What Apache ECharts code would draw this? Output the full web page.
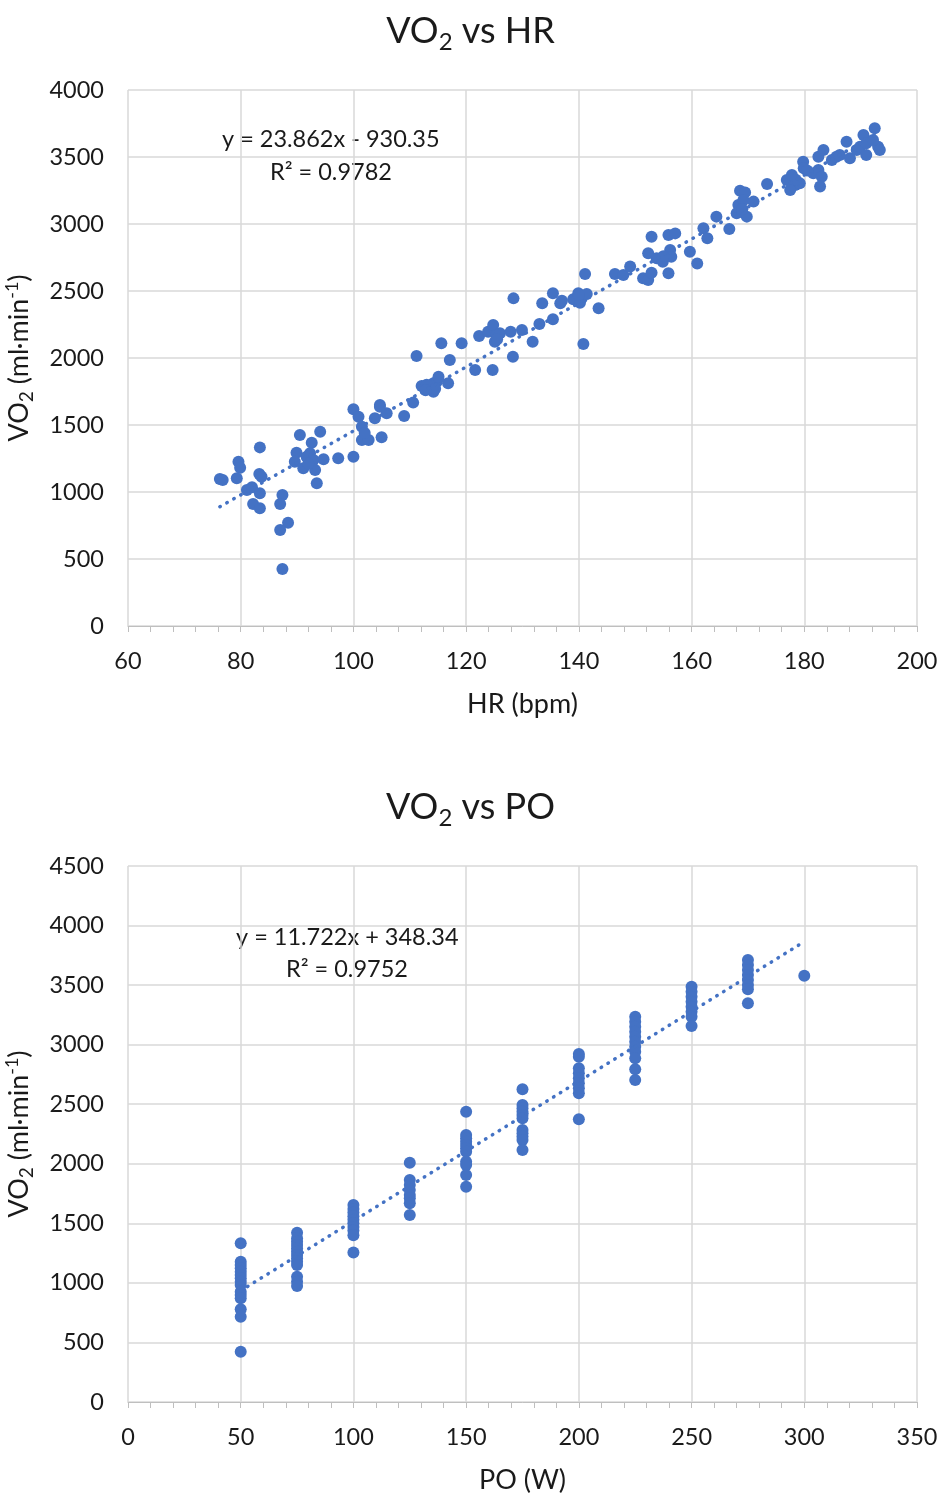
<!DOCTYPE html>
<html>
<head>
<meta charset="utf-8">
<script src="https://cdn.jsdelivr.net/npm/echarts@6/dist/echarts.min.js"></script>
<style>
html,body{margin:0;padding:0;background:#fff;}
#chart{width:941px;height:1495px;}
</style>
</head>
<body>
<div id="chart"></div>
<script>
// ---------- DATA ----------
const hrTicks = [60, 80, 100, 120, 140, 160, 180, 200];
const hrVo2Ticks = [0, 500, 1000, 1500, 2000, 2500, 3000, 3500, 4000];
const poTicks = [0, 50, 100, 150, 200, 250, 300, 350];
const poVo2Ticks = [0, 500, 1000, 1500, 2000, 2500, 3000, 3500, 4000, 4500];

// HR (bpm) values and matching VO2 (ml/min)
const hrValues = [76.3,76.8,79.6,79.9,79.3,83.4,83.3,83.7,81.1,82.0,83.4,82.2,83.4,87.4,87.0,88.4,87.0,87.4,
  90.5,94.1,92.6,89.9,89.6,91.1,91.7,92.3,92.9,93.2,94.7,93.5,97.3,100.0,100.0,100.9,101.5,101.5,102.7,103.8,
  105.0,104.7,105.9,109.0,110.6,111.2,112.1,113.6,114.2,114.8,114.2,115.1,116.8,115.6,117.1,119.2,121.6,122.3,
  123.9,124.8,125.4,125.1,126.0,124.7,127.9,128.4,128.3,129.9,131.8,133.0,133.5,135.4,135.4,136.7,137.0,139.0,
  139.9,140.5,141.4,140.2,141.1,143.5,140.8,146.4,147.9,149.1,151.4,152.3,152.9,152.9,152.3,153.8,154.9,156.2,
  156.4,155.9,155.9,157.1,159.7,161.0,162.1,162.8,164.4,166.7,168.6,169.5,168.3,168.9,169.8,169.2,171.0,168.0,
  173.4,176.9,177.8,178.4,177.5,179.2,179.8,179.9,181.6,182.5,183.1,182.8,182.5,183.4,184.9,185.7,186.3,188.1,
  187.5,189.3,189.9,191.0,190.5,191.0,192.5,193.1,193.4,192.2,
  92.0,102.0,113.0,114.5,125.5,112.8,140.0,155.0,169.0,178.5,180.5,104.7];
const hrVo2Values = [1097,1090,1226,1181,1102,1333,1134,1114,1015,1035,990,910,878,978,910,771,716,425,
  1425,1450,1368,1293,1226,1177,1263,1289,1239,1164,1244,1065,1251,1263,1617,1562,1487,1388,1388,1550,
  1408,1649,1587,1567,1667,2015,1791,1786,1749,1823,1811,1860,1811,2110,1985,2110,1910,2164,
  2196,2246,2172,2122,2184,1910,2196,2445,2010,2209,2122,2254,2408,2483,2289,2408,2428,2438,
  2483,2445,2478,2413,2627,2371,2104,2627,2619,2682,2595,2582,2637,2905,2781,2744,2719,2806,
  2756,2632,2918,2930,2793,2706,2968,2893,3055,2963,3249,3236,3142,3092,3055,3179,3167,3080,
  3299,3328,3366,3291,3254,3304,3465,3416,3378,3403,3353,3279,3502,3552,3478,3502,3515,3490,
  3614,3552,3577,3515,3664,3602,3714,3577,3552,3627,
  1210,1440,1800,1770,2140,1760,2470,2760,3110,3330,3400,1637];

// PO (W) levels and the VO2 values measured at each level
const poLevels = [50, 75, 100, 125, 150, 175, 200, 225, 250, 275, 300];
const poVo2Values = [
  [1332,1178,1150,1122,1094,1066,1038,1010,982,926,898,870,778,716,422],
  [1421,1374,1346,1318,1290,1262,1234,1206,1178,1150,1052,1010,974],
  [1654,1620,1590,1560,1530,1500,1470,1440,1400,1255],
  [2009,1864,1822,1780,1738,1710,1668,1570],
  [2437,2242,2214,2185,2157,2130,2101,2018,1990,1906,1808],
  [2625,2493,2466,2437,2410,2382,2284,2256,2228,2200,2116],
  [2922,2899,2802,2760,2718,2676,2634,2592,2373],
  [3235,3193,3151,3109,3067,3025,2983,2941,2885,2793,2703],
  [3487,3445,3403,3361,3319,3277,3235,3157],
  [3711,3669,3627,3585,3543,3501,3465,3347],
  [3579]
];

// trendline end points (as drawn)
const hrTrendX = [76.3, 193.4];
const hrTrendY = [890, 3685];
const poTrendX = [50, 300];
const poTrendY = [934, 3865];

const hrEquation = ['y = 23.862x - 930.35', 'R² = 0.9782'];
const poEquation = ['y = 11.722x + 348.34', 'R² = 0.9752'];

// ---------- BUILD ----------
const hrData = hrValues.map((v, i) => [v, hrVo2Values[i]]);
const poData = [];
poLevels.forEach((lv, i) => poVo2Values[i].forEach(v => poData.push([lv, v])));
const hrTrend = hrTrendX.map((v, i) => [v, hrTrendY[i]]);
const poTrend = poTrendX.map((v, i) => [v, poTrendY[i]]);

const BLUE = '#4472C4';
const GRID = '#d9d9d9';
const TXT = '#1a1a1a';
const FONT = 'Lato';

const titleRich = {
  a: {fontSize: 36, fontFamily: FONT, fontWeight: 'normal', color: TXT, lineHeight: 46},
  s: {fontSize: 24, fontFamily: FONT, fontWeight: 'normal', color: TXT, lineHeight: 24, verticalAlign: 'bottom', padding: [0,0,0,0]}
};
const yNameRich = {
  a: {fontSize: 27, fontFamily: FONT, color: TXT, lineHeight: 38},
  s: {fontSize: 19, fontFamily: FONT, color: TXT, lineHeight: 19, verticalAlign: 'bottom', padding: [0,0,2,0]},
  p: {fontSize: 18, fontFamily: FONT, color: TXT, lineHeight: 18, verticalAlign: 'top', padding: [3,0,0,0]}
};

function xAxis(gi, ticks, name) {
  return {
    type: 'value', gridIndex: gi, min: ticks[0], max: ticks[ticks.length-1], interval: ticks[1]-ticks[0],
    name: name, nameLocation: 'middle', nameGap: 65,
    nameTextStyle: {fontSize: 27, fontFamily: FONT, color: TXT},
    axisLine: {show: true, lineStyle: {color: '#bfbfbf', width: 1}},
    axisTick: {show: true, length: 6, lineStyle: {color: '#bfbfbf'}},
    minorTick: {show: true, splitNumber: 5, length: 6, lineStyle: {color: '#bfbfbf'}},
    axisLabel: {fontSize: 23.5, fontFamily: FONT, color: TXT, margin: 23, formatter: v => String(v)},
    splitLine: {show: true, lineStyle: {color: GRID, width: 1.5}}
  };
}
function yAxis(gi, ticks) {
  return {
    type: 'value', gridIndex: gi, min: ticks[0], max: ticks[ticks.length-1], interval: ticks[1]-ticks[0],
    name: '{a|VO}{s|2}{a| (ml·min}{p|-1}{a|)}', nameLocation: 'middle', nameGap: 82,
    nameTextStyle: {rich: yNameRich},
    axisLine: {show: false}, axisTick: {show: false},
    axisLabel: {fontSize: 23.5, fontFamily: FONT, color: TXT, margin: 24, formatter: v => String(v)},
    splitLine: {show: true, lineStyle: {color: GRID, width: 1.5}}
  };
}
function scatter(i, data) {
  return {type: 'scatter', xAxisIndex: i, yAxisIndex: i, data: data, symbolSize: 12,
    itemStyle: {color: BLUE, opacity: 1}, z: 3};
}
function trend(i, data) {
  return {type: 'line', xAxisIndex: i, yAxisIndex: i, data: data, symbol: 'none',
    lineStyle: {color: BLUE, width: 3.5, type: [0.5, 7.5], cap: 'round'}, z: 4, silent: true};
}
function eqText(x, y, txt) {
  return {type: 'text', left: x, top: y, style: {text: txt, fontSize: 23.5, fontFamily: FONT, fill: TXT}};
}

const chart = echarts.init(document.getElementById('chart'), null, {renderer: 'canvas'});
chart.setOption({
  animation: false,
  backgroundColor: '#fff',
  title: [
    {text: '{a|VO}{s|2}{a| vs HR}', left: 'center', top: 3, textStyle: {fontWeight: 'normal', rich: titleRich}},
    {text: '{a|VO}{s|2}{a| vs PO}', left: 'center', top: 779, textStyle: {fontWeight: 'normal', rich: titleRich}}
  ],
  grid: [
    {left: 128, top: 90, width: 789, height: 536, outerBoundsMode: 'none', containLabel: false},
    {left: 128, top: 866, width: 789, height: 536, outerBoundsMode: 'none', containLabel: false}
  ],
  xAxis: [xAxis(0, hrTicks, 'HR (bpm)'), xAxis(1, poTicks, 'PO (W)')],
  yAxis: [yAxis(0, hrVo2Ticks), yAxis(1, poVo2Ticks)],
  series: [scatter(0, hrData), trend(0, hrTrend), scatter(1, poData), trend(1, poTrend)],
  graphic: [
    eqText(222, 127, hrEquation[0]), eqText(270, 160, hrEquation[1]),
    eqText(236, 925, poEquation[0]), eqText(286, 957, poEquation[1])
  ]
});
</script>
</body>
</html>
